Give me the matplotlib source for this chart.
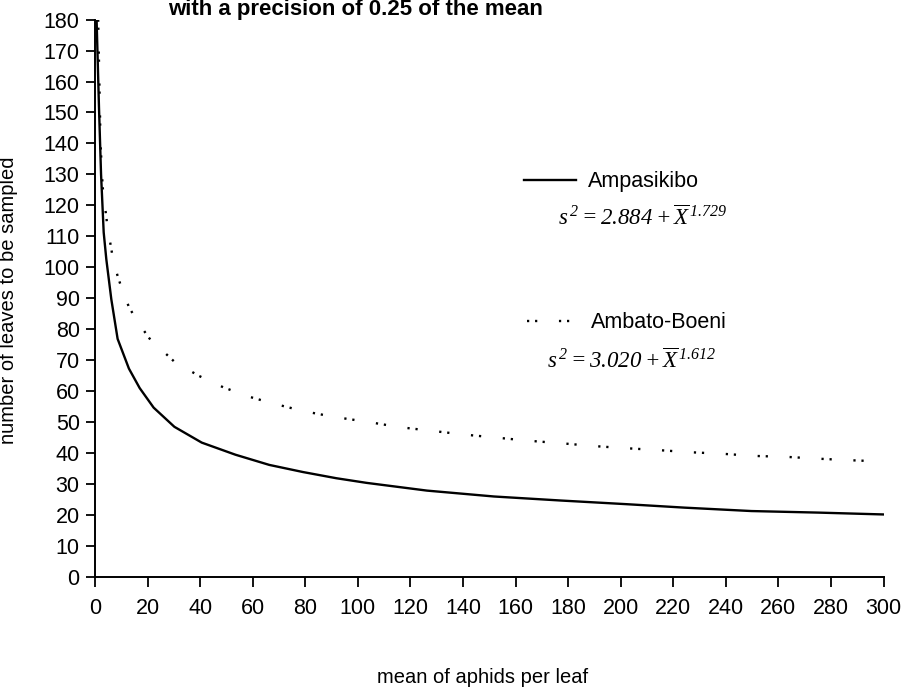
import matplotlib
matplotlib.use('Agg')
import matplotlib.pyplot as plt
from matplotlib.ticker import MultipleLocator

plt.rcParams['font.family'] = ['Liberation Sans', 'DejaVu Sans']
plt.rcParams['mathtext.fontset'] = 'custom'
# formulas are fully italic in the original, digits too
plt.rcParams['mathtext.rm'] = 'Liberation Serif:italic'
plt.rcParams['mathtext.it'] = 'Liberation Serif:italic'
plt.rcParams['mathtext.default'] = 'it'
plt.rcParams['lines.scale_dashes'] = False

# values (scan straightened)
amp_x = [0.6, 1.5, 2.3, 3.3, 4.3, 6.2, 8.6, 12.9, 17.0, 22.3, 30.2, 40.6, 53.4,
         66.3, 79.1, 91.8, 103.3, 126.3, 151.8, 177.2, 202.6, 224.3, 249.7, 275.1, 300]
amp_y = [180, 152, 130, 111.3, 102.6, 89.7, 76.9, 67.3, 61.0, 54.7, 48.5, 43.4, 39.5,
         36.2, 33.9, 31.9, 30.4, 27.9, 26.0, 24.7, 23.5, 22.4, 21.3, 20.8, 20.2]

amb_x = [1.2, 2.1, 2.9, 4.7, 6.8, 8.5, 10.5, 13.0, 16.6, 21.1, 27.2, 30.1, 39.4, 48.7,
         57.9, 67.0, 79.1, 90.9, 103.7, 115.8, 128.1, 140.4, 152.8, 165.0, 177.3,
         189.5, 201.8, 214.0, 226.3, 238.6, 250.8, 263.0, 275.3, 287.6, 300]
amb_y = [180, 140, 126, 113.4, 102.9, 97.5, 92.3, 87.0, 81.9, 76.6, 71.9, 69.6, 65.0, 61.3,
         58.4, 56.2, 53.6, 51.7, 50.1, 48.4, 47.2, 46.0, 45.0, 44.0, 43.2,
         42.3, 41.6, 41.0, 40.3, 39.8, 39.1, 38.8, 38.2, 37.7, 37.3]

amp_label = 'Ampasikibo'
amb_label = 'Ambato-Boeni'
amp_eq = r'$s^{\,2} = 2.884 + \overline{X}^{\,1.729}$'
amb_eq = r'$s^{\,2} = 3.020 + \overline{X}^{\,1.612}$'

fig = plt.figure(figsize=(9.04, 6.87), dpi=100)
ax = fig.add_axes([0.1051, 0.1601, 0.8723, 0.8114])

amb_line, = ax.plot(amb_x, amb_y, color='black', lw=1.7,
                    ls=(0, (1.6, 4.2, 1.6, 15.6)), dash_capstyle='butt')
amp_line, = ax.plot(amp_x, amp_y, color='black', lw=1.7)

ax.set_xlim(0, 300)
ax.set_ylim(0, 180)
ax.xaxis.set_major_locator(MultipleLocator(20))
ax.yaxis.set_major_locator(MultipleLocator(10))
for side in ['top', 'right']:
    ax.spines[side].set_visible(False)
for side in ['left', 'bottom']:
    ax.spines[side].set_linewidth(1.4)
ax.tick_params(axis='x', direction='out', length=7, width=1.3, labelsize=15.5, pad=8)
ax.tick_params(axis='y', direction='out', length=6.5, width=1.3, labelsize=15.5, pad=4.5)

ax.set_xlabel('mean of aphids per leaf', fontsize=14.5)
ax.set_ylabel('number of leaves to be sampled', fontsize=14.5)
ax.xaxis.set_label_coords(0.492, -0.163)
ax.yaxis.set_label_coords(-0.098, 0.497)

fig.text(0.393, 1 - 9 / 687, 'with a precision of 0.25 of the mean',
         ha='center', va='center', fontsize=16, fontweight='bold')

leg1 = ax.legend([amp_line], [amp_label], loc='center left', frameon=False,
                 bbox_to_anchor=(0.580, 0.7354), bbox_transform=fig.transFigure,
                 borderpad=0, borderaxespad=0, handlelength=2.4, handletextpad=0.55,
                 fontsize=15.5)
ax.add_artist(leg1)
ax.legend([amb_line], [amb_label], loc='center left', frameon=False,
          bbox_to_anchor=(0.583, 0.5303), bbox_transform=fig.transFigure,
          borderpad=0, borderaxespad=0, handlelength=2.4, handletextpad=0.55,
          fontsize=15.5)

fig.text(0.617, 0.6836, amp_eq, ha='left', va='center', fontsize=16.5)
fig.text(0.605, 0.4748, amb_eq, ha='left', va='center', fontsize=16.5)

fig.savefig('out.png', dpi=100)
